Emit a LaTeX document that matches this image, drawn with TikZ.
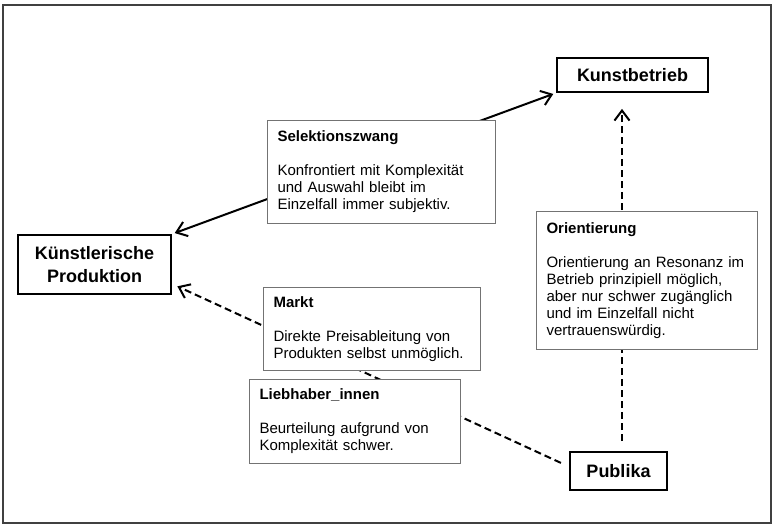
\documentclass[tikz,border=0pt]{standalone}
\usepackage{fontspec}
\setmainfont{Liberation Sans}
\usetikzlibrary{arrows.meta}
\begin{document}
\begin{tikzpicture}[x=1pt, y=-1pt, >={Straight Barb[length=10pt, width=15pt]},
    mainbox/.style={draw, line width=1.8pt, font=\fontsize{18}{23}\selectfont\bfseries, align=center, inner sep=0pt},
    infobox/.style={draw=black!55, line width=1.1pt, fill=white, anchor=north west, align=left,
        inner xsep=10pt, inner ysep=0pt, font=\fontsize{15}{17}\selectfont},
    link/.style={line width=2pt},
    dashlink/.style={link, dash pattern=on 7pt off 4pt}]
    \useasboundingbox (0, 0) rectangle (772, 525);
    \draw[black!75, line width=1.6pt] (3, 5) rectangle (771, 523);
    \node[mainbox, minimum width=151pt, minimum height=34pt] (kb) at (632.5, 75) {Kunstbetrieb};
    \node[mainbox, minimum width=153pt, minimum height=59pt] (kp) at (94.5, 264.5) {Künstlerische\\Produktion};
    \node[mainbox, minimum width=97pt, minimum height=38pt] (pub) at (618.5, 471) {Publika};
    \draw[link, <->, shorten <=3pt, shorten >=3pt] (kp.north east) -- (kb.south west);
    \draw[dashlink, ->, shorten <=9pt, shorten >=6pt] (pub.175) -- (kp.-14);
    \draw[dashlink, ->] ([xshift=3.5pt, yshift=10pt]pub.north) -- ([xshift=-10.5pt, yshift=-16pt]kb.south);
    \node[infobox, text width=208pt, minimum height=103pt] (sel) at (267, 120) {\textbf{Selektionszwang}\\[17pt]Konfrontiert mit Komplexität\\und Auswahl bleibt im\\Einzelfall immer subjektiv.};
    \node[infobox, text width=201pt, minimum height=138pt] (ori) at (536, 211) {\textbf{Orientierung}\\[17pt]Orientierung an Resonanz im\\Betrieb prinzipiell möglich,\\aber nur schwer zugänglich\\und im Einzelfall nicht\\vertrauenswürdig.};
    \node[infobox, text width=197pt, minimum height=83pt] (markt) at (263, 287) {\textbf{Markt}\\[17pt]Direkte Preisableitung von\\Produkten selbst unmöglich.};
    \node[infobox, text width=191pt, minimum height=84pt] (lieb) at (249, 379) {\textbf{Liebhaber\_innen}\\[17pt]Beurteilung aufgrund von\\Komplexität schwer.};
\end{tikzpicture}
\end{document}
